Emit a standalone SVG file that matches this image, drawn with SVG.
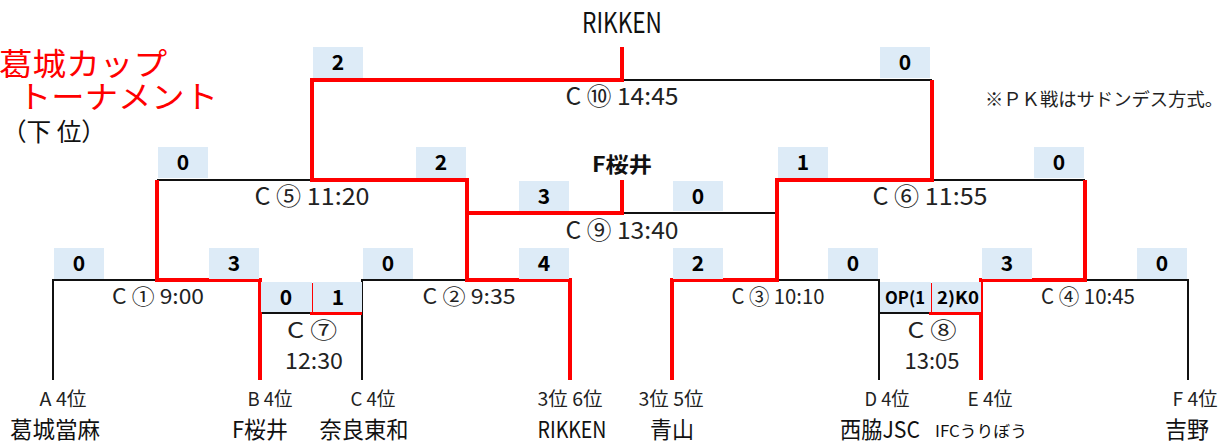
<svg xmlns="http://www.w3.org/2000/svg" width="1231" height="443" viewBox="0 0 1231 443">
<style>
text{font-family:"Noto Sans CJK JP","Noto Sans",sans-serif;fill:#111}
.box{fill:#DDEBF7}
.r{stroke:#FF0000;stroke-width:4;fill:none;stroke-linejoin:miter}
.k{stroke:#111;stroke-width:2;fill:none}
.sc{font-size:21px;font-weight:bold;text-anchor:middle;fill:#000}
.op{font-size:17px;font-weight:bold;text-anchor:middle;fill:#000}
.lb{font-size:24px;text-anchor:middle;fill:#222}
.lm{font-size:22px;text-anchor:middle;fill:#222}
.ls{font-size:21px;text-anchor:middle;fill:#222}
.pos{font-size:19px;text-anchor:middle;fill:#222}
.tm{font-size:23px;text-anchor:middle;fill:#111}
.title{font-size:31px;fill:#FF0000}
</style>
<g id="title">
<text class="title" x="-1" y="75" textLength="168" lengthAdjust="spacingAndGlyphs">葛城カップ</text>
<text class="title" x="18" y="108" textLength="200" lengthAdjust="spacingAndGlyphs">トーナメント</text>
<text x="2" y="141" style="font-size:25px;fill:#111" textLength="104" lengthAdjust="spacingAndGlyphs">（下 位）</text>
<text x="985" y="106" style="font-size:18px;fill:#222" textLength="238" lengthAdjust="spacingAndGlyphs">※ＰＫ戦はサドンデス方式。</text>
</g>
<g id="connectors">
<path class="k" d="M622,80 H932"/>
<path class="k" d="M157,180 H312"/>
<path class="k" d="M932,180 H1085"/>
<path class="k" d="M622,213 H777"/>
<path class="k" d="M53,380 V280 H157"/>
<path class="k" d="M362,380 V280 H467"/>
<path class="k" d="M777,280 H879 V380"/>
<path class="k" d="M1085,280 H1188 V380"/>
<path class="k" d="M260,313 H312"/>
<path class="k" d="M879,313 H931"/>
<path class="r" d="M622,47 V80 H312 V180 H467 V280 H570 V380"/>
<path class="r" d="M467,213 H622 V180"/>
<path class="r" d="M157,180 V280 H260 V380"/>
<path class="r" d="M312,283 V313 H362"/>
<path class="r" d="M932,80 V180 H777 V280 H672 V380"/>
<path class="r" d="M1085,180 V280 H981 V380"/>
<path class="r" d="M931,283 V313 H981"/>
</g>
<g id="scores">
<rect class="box" x="313" y="47" width="50" height="31"/><text class="sc" x="338" y="70">2</text>
<rect class="box" x="880" y="47" width="50" height="31"/><text class="sc" x="905" y="70">0</text>
<rect class="box" x="158" y="147" width="50" height="31"/><text class="sc" x="183" y="170">0</text>
<rect class="box" x="416" y="147" width="50" height="31"/><text class="sc" x="441" y="170">2</text>
<rect class="box" x="778" y="147" width="50" height="31"/><text class="sc" x="803" y="170">1</text>
<rect class="box" x="1034" y="147" width="50" height="31"/><text class="sc" x="1059" y="170">0</text>
<rect class="box" x="519" y="181" width="50" height="30"/><text class="sc" x="544" y="204">3</text>
<rect class="box" x="673" y="181" width="50" height="30"/><text class="sc" x="698" y="204">0</text>
<rect class="box" x="54" y="248" width="50" height="31"/><text class="sc" x="79" y="271">0</text>
<rect class="box" x="209" y="248" width="50" height="31"/><text class="sc" x="234" y="271">3</text>
<rect class="box" x="363" y="248" width="50" height="31"/><text class="sc" x="388" y="271">0</text>
<rect class="box" x="519" y="248" width="50" height="31"/><text class="sc" x="544" y="271">4</text>
<rect class="box" x="673" y="248" width="50" height="31"/><text class="sc" x="698" y="271">2</text>
<rect class="box" x="828" y="248" width="50" height="31"/><text class="sc" x="853" y="271">0</text>
<rect class="box" x="982" y="248" width="50" height="31"/><text class="sc" x="1007" y="271">3</text>
<rect class="box" x="1137" y="248" width="50" height="31"/><text class="sc" x="1162" y="271">0</text>
<rect class="box" x="261" y="282" width="51" height="30"/><text class="sc" x="286" y="305">0</text>
<rect class="box" x="313" y="282" width="49" height="30"/><text class="sc" x="338" y="305">1</text>
<rect class="box" x="880" y="282" width="51" height="30"/><text class="op" x="905" y="304" textLength="40" lengthAdjust="spacingAndGlyphs">OP(1</text>
<rect class="box" x="932" y="282" width="49" height="30"/><text class="op" x="958" y="304" textLength="42" lengthAdjust="spacingAndGlyphs">2)K0</text>
</g>
<g id="matches">
<text class="lb" x="622" y="105" textLength="113" lengthAdjust="spacingAndGlyphs">C ⑩ 14:45</text>
<text class="lb" x="312" y="205" textLength="115" lengthAdjust="spacingAndGlyphs">C ⑤ 11:20</text>
<text class="lb" x="930" y="205" textLength="115" lengthAdjust="spacingAndGlyphs">C ⑥ 11:55</text>
<text class="lb" x="622" y="239" textLength="113" lengthAdjust="spacingAndGlyphs">C ⑨ 13:40</text>
<text class="ls" x="158" y="304" textLength="92" lengthAdjust="spacingAndGlyphs">C ① 9:00</text>
<text class="ls" x="469" y="304" textLength="93" lengthAdjust="spacingAndGlyphs">C ② 9:35</text>
<text class="ls" x="778" y="304" textLength="93" lengthAdjust="spacingAndGlyphs">C ③ 10:10</text>
<text class="ls" x="1088" y="304" textLength="94" lengthAdjust="spacingAndGlyphs">C ④ 10:45</text>
<text class="lm" x="312" y="338" textLength="50" lengthAdjust="spacingAndGlyphs">C ⑦</text>
<text class="lm" x="314" y="369" textLength="58" lengthAdjust="spacingAndGlyphs">12:30</text>
<text class="lm" x="932" y="338" textLength="49" lengthAdjust="spacingAndGlyphs">C ⑧</text>
<text class="lm" x="932" y="369" textLength="55" lengthAdjust="spacingAndGlyphs">13:05</text>
</g>
<g id="winners">
<text x="622" y="33" style="font-size:28px;text-anchor:middle;fill:#111" textLength="80" lengthAdjust="spacingAndGlyphs">RIKKEN</text>
<text x="622" y="172" style="font-size:21px;font-weight:bold;text-anchor:middle;fill:#111" textLength="60" lengthAdjust="spacingAndGlyphs">F桜井</text>
</g>
<g id="team-a"><text class="pos" x="63" y="406" textLength="47" lengthAdjust="spacingAndGlyphs">A 4位</text><text class="tm" x="55" y="438" textLength="90" lengthAdjust="spacingAndGlyphs">葛城當麻</text></g>
<g id="team-b"><text class="pos" x="270" y="406" textLength="45" lengthAdjust="spacingAndGlyphs">B 4位</text><text class="tm" x="260" y="438" textLength="56" lengthAdjust="spacingAndGlyphs">F桜井</text></g>
<g id="team-c"><text class="pos" x="373" y="406" textLength="45" lengthAdjust="spacingAndGlyphs">C 4位</text><text class="tm" x="364" y="438" textLength="89" lengthAdjust="spacingAndGlyphs">奈良東和</text></g>
<g id="team-rikken"><text class="pos" x="570" y="406" textLength="65" lengthAdjust="spacingAndGlyphs">3位 6位</text><text class="tm" x="572" y="438" textLength="69" lengthAdjust="spacingAndGlyphs">RIKKEN</text></g>
<g id="team-aoyama"><text class="pos" x="671" y="406" textLength="65" lengthAdjust="spacingAndGlyphs">3位 5位</text><text class="tm" x="672" y="438" textLength="44" lengthAdjust="spacingAndGlyphs">青山</text></g>
<g id="team-d"><text class="pos" x="887" y="406" textLength="45" lengthAdjust="spacingAndGlyphs">D 4位</text><text class="tm" x="880" y="438" textLength="80" lengthAdjust="spacingAndGlyphs">西脇JSC</text></g>
<g id="team-e"><text class="pos" x="990" y="406" textLength="45" lengthAdjust="spacingAndGlyphs">E 4位</text><text x="981" y="437" style="font-size:16px;text-anchor:middle;fill:#111" textLength="92" lengthAdjust="spacingAndGlyphs">IFCうりぼう</text></g>
<g id="team-f"><text class="pos" x="1195" y="406" textLength="45" lengthAdjust="spacingAndGlyphs">F 4位</text><text class="tm" x="1187" y="438" textLength="44" lengthAdjust="spacingAndGlyphs">吉野</text></g>
</svg>
